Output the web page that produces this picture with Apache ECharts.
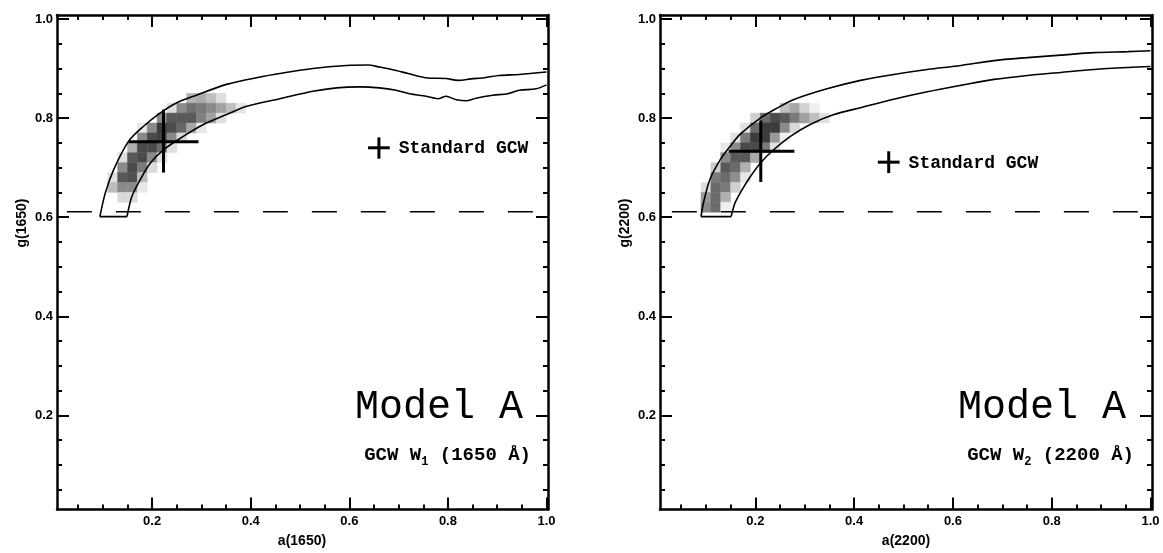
<!DOCTYPE html>
<html>
<head>
<meta charset="utf-8">
<title>Model A: g versus a</title>
<script src="https://cdn.jsdelivr.net/npm/echarts@6/dist/echarts.min.js"></script>
<style>
  html, body { margin: 0; background: #fff; }
  #chart { width: 1163px; height: 553px; }
</style>
</head>
<body>
<div id="chart"></div>
<script>
// axis ticks
const majorTicks = [0.2, 0.4, 0.6, 0.8, 1.0];
const minorTicks = [0.05, 0.1, 0.15, 0.25, 0.3, 0.35, 0.45, 0.5, 0.55, 0.65, 0.7, 0.75, 0.85, 0.9, 0.95];

// allowed region, 1650 A panel: upper and lower boundary [a, g]
const outerL = [[0.094,0.601],[0.105,0.649],[0.122,0.696],[0.152,0.753],[0.182,0.783],[0.216,0.810],[0.250,0.831],[0.284,0.844],[0.351,0.868],[0.419,0.883],[0.459,0.890],[0.526,0.900],[0.594,0.906],[0.638,0.907],[0.661,0.903],[0.695,0.896],[0.719,0.890],[0.759,0.881],[0.796,0.880],[0.820,0.876],[0.847,0.879],[0.877,0.882],[0.904,0.886],[0.945,0.888],[1.0,0.893]];
const innerL = [[0.149,0.601],[0.159,0.642],[0.176,0.676],[0.196,0.709],[0.223,0.736],[0.263,0.763],[0.304,0.787],[0.351,0.807],[0.392,0.824],[0.459,0.839],[0.526,0.854],[0.574,0.861],[0.621,0.863],[0.661,0.861],[0.695,0.856],[0.722,0.849],[0.756,0.844],[0.780,0.839],[0.796,0.844],[0.817,0.837],[0.839,0.835],[0.857,0.840],[0.891,0.846],[0.921,0.849],[0.945,0.856],[0.979,0.859],[1.0,0.867]];

// allowed region, 2200 A panel
const outerR = [[0.090,0.601],[0.095,0.629],[0.108,0.676],[0.129,0.716],[0.149,0.743],[0.169,0.767],[0.210,0.800],[0.244,0.820],[0.277,0.837],[0.345,0.859],[0.413,0.876],[0.480,0.888],[0.548,0.898],[0.616,0.906],[0.683,0.916],[0.751,0.922],[0.818,0.927],[0.886,0.932],[0.954,0.934],[1.0,0.936]];
const innerR = [[0.151,0.601],[0.159,0.629],[0.173,0.655],[0.190,0.682],[0.210,0.709],[0.237,0.736],[0.271,0.763],[0.311,0.787],[0.359,0.807],[0.413,0.821],[0.480,0.838],[0.548,0.853],[0.616,0.866],[0.683,0.878],[0.751,0.886],[0.818,0.892],[0.886,0.898],[0.954,0.902],[1.0,0.904]];

// likelihood cells [a, g, darkness 0..1], 0.02 wide
const heatL = [
  [0.28,0.84,0.30],[0.30,0.84,0.33],[0.32,0.84,0.25],[0.34,0.84,0.13],
  [0.24,0.82,0.13],[0.26,0.82,0.46],[0.28,0.82,0.56],[0.30,0.82,0.52],[0.32,0.82,0.46],[0.34,0.82,0.37],[0.36,0.82,0.25],[0.38,0.82,0.10],
  [0.22,0.80,0.46],[0.24,0.80,0.65],[0.26,0.80,0.65],[0.28,0.80,0.65],[0.30,0.80,0.50],[0.32,0.80,0.37],[0.34,0.80,0.12],
  [0.18,0.78,0.09],[0.20,0.78,0.46],[0.22,0.78,0.77],[0.24,0.78,0.70],[0.26,0.78,0.60],[0.28,0.78,0.34],[0.30,0.78,0.09],
  [0.18,0.76,0.46],[0.20,0.76,0.71],[0.22,0.76,0.75],[0.24,0.76,0.46],[0.26,0.76,0.15],
  [0.16,0.74,0.31],[0.18,0.74,0.71],[0.20,0.74,0.71],[0.22,0.74,0.58],[0.24,0.74,0.12],
  [0.14,0.72,0.13],[0.16,0.72,0.65],[0.18,0.72,0.71],[0.20,0.72,0.46],[0.22,0.72,0.12],
  [0.14,0.70,0.46],[0.16,0.70,0.71],[0.18,0.70,0.52],[0.20,0.70,0.14],
  [0.12,0.68,0.12],[0.14,0.68,0.65],[0.16,0.68,0.69],[0.18,0.68,0.26],
  [0.12,0.66,0.26],[0.14,0.66,0.46],[0.16,0.66,0.46],[0.18,0.66,0.09],
  [0.14,0.64,0.15],[0.16,0.64,0.14]
];
const heatR = [
  [0.26,0.82,0.25],[0.28,0.82,0.34],[0.30,0.82,0.18],[0.32,0.82,0.06],
  [0.20,0.80,0.18],[0.22,0.80,0.58],[0.24,0.80,0.71],[0.26,0.80,0.65],[0.28,0.80,0.52],[0.30,0.80,0.37],[0.32,0.80,0.25],[0.34,0.80,0.12],
  [0.18,0.78,0.12],[0.20,0.78,0.58],[0.22,0.78,0.77],[0.24,0.78,0.77],[0.26,0.78,0.46],[0.28,0.78,0.15],
  [0.16,0.76,0.12],[0.18,0.76,0.52],[0.20,0.76,0.77],[0.22,0.76,0.76],[0.24,0.76,0.40],[0.26,0.76,0.06],
  [0.14,0.74,0.09],[0.16,0.74,0.46],[0.18,0.74,0.71],[0.20,0.74,0.71],[0.22,0.74,0.52],[0.24,0.74,0.12],
  [0.14,0.72,0.46],[0.16,0.72,0.65],[0.18,0.72,0.65],[0.20,0.72,0.33],
  [0.12,0.70,0.20],[0.14,0.70,0.65],[0.16,0.70,0.58],[0.18,0.70,0.31],
  [0.12,0.68,0.52],[0.14,0.68,0.58],[0.16,0.68,0.44],[0.18,0.68,0.09],
  [0.10,0.66,0.13],[0.12,0.66,0.58],[0.14,0.66,0.52],[0.16,0.66,0.18],
  [0.10,0.64,0.40],[0.12,0.64,0.58],[0.14,0.64,0.31],
  [0.10,0.62,0.46],[0.12,0.62,0.58],[0.14,0.62,0.06]
];

// best fit with errors [a, g, aLo, aHi, gLo, gHi]
const bestL = [[0.223, 0.752, 0.152, 0.294, 0.690, 0.817]];
const bestR = [[0.211, 0.733, 0.146, 0.279, 0.671, 0.795]];
// standard GCW point (drawn as small cross)
const stdL = [[0.660, 0.740, 0.638, 0.682, 0.718, 0.761]];
const stdR = [[0.470, 0.711, 0.448, 0.492, 0.689, 0.733]];

// g threshold (dashed)
const gLimit = 0.611;
const dashL = [[0.027, gLimit], [1.0, gLimit]];
const dashR = [[0.031, gLimit], [1.0, gLimit]];

const X_MIN = 0.007, X_MAX = 1.003, Y_MIN = 0.01, Y_MAX = 1.008;
const CELL = 0.02;

const labelFont = { color: '#000', fontFamily: 'Liberation Sans', fontWeight: 'bold', fontSize: 13 };
const monoFont = '"Liberation Mono", "DejaVu Sans Mono", monospace';

function frameAxes(dim, gridIndex) {
  const sides = dim === 'x' ? ['bottom', 'top'] : ['left', 'right'];
  const range = dim === 'x' ? { min: X_MIN, max: X_MAX } : { min: Y_MIN, max: Y_MAX };
  const out = [];
  sides.forEach((pos, i) => {
    out.push({
      ...range, type: 'value', gridIndex, position: pos,
      axisLine: { show: true, onZero: false, lineStyle: { color: '#000', width: 2.5 } },
      axisTick: { show: true, inside: true, length: 12, customValues: majorTicks, lineStyle: { color: '#000', width: 2 } },
      axisLabel: i === 0
        ? { show: true, customValues: majorTicks, margin: dim === 'x' ? 5 : 4, formatter: (v) => v.toFixed(1), ...labelFont }
        : { show: false },
      splitLine: { show: false },
    });
    out.push({
      ...range, type: 'value', gridIndex, position: pos,
      axisLine: { show: false, onZero: false },
      axisTick: { show: true, inside: true, length: 5, customValues: minorTicks, lineStyle: { color: '#000', width: 2 } },
      axisLabel: { show: false },
      splitLine: { show: false },
    });
  });
  return out;
}

function cellItem(params, api) {
  const x = api.value(0), y = api.value(1), d = api.value(2);
  const p0 = api.coord([x - CELL / 2, y + CELL / 2]);
  const p1 = api.coord([x + CELL / 2, y - CELL / 2]);
  const g = Math.round(255 * (1 - d));
  const c = `rgb(${g},${g},${g})`;
  return {
    type: 'rect',
    shape: { x: p0[0], y: p0[1], width: p1[0] - p0[0], height: p1[1] - p0[1] },
    style: { fill: c, stroke: c, lineWidth: 0.5 },
  };
}

function seg(a, b) {
  return { type: 'line', shape: { x1: a[0], y1: a[1], x2: b[0], y2: b[1] }, style: { stroke: '#000', lineWidth: 3 } };
}

function crossItem(label) {
  return function (params, api) {
    const c = api.coord([api.value(0), api.value(1)]);
    const l = api.coord([api.value(2), api.value(1)]);
    const r = api.coord([api.value(3), api.value(1)]);
    const b = api.coord([api.value(0), api.value(4)]);
    const t = api.coord([api.value(0), api.value(5)]);
    const children = [seg(l, r), seg(t, b)];
    if (label) {
      children.push({
        type: 'text', x: r[0] + 9, y: c[1] + 1,
        style: { text: label, fill: '#000', font: `bold 18px ${monoFont}`, align: 'left', verticalAlign: 'middle' },
      });
    }
    return { type: 'group', children };
  };
}

function curve(ax, data, smooth) {
  return {
    type: 'line', xAxisIndex: ax, yAxisIndex: ax, data, showSymbol: false, z: 2, silent: true,
    smooth: smooth,
    lineStyle: { color: '#000', width: 1.6 },
  };
}

function panelSeries(ax, heat, outer, inner, dash, best, std) {
  return [
    { type: 'custom', xAxisIndex: ax, yAxisIndex: ax, renderItem: cellItem, data: heat, z: 1, silent: true },
    curve(ax, outer, 0.3),
    curve(ax, inner, 0.3),
    curve(ax, [inner[0], outer[0]], false),
    { type: 'line', xAxisIndex: ax, yAxisIndex: ax, data: dash, showSymbol: false, z: 2, silent: true,
      lineStyle: { color: '#000', width: 1.5, type: [25, 24] } },
    { type: 'custom', xAxisIndex: ax, yAxisIndex: ax, renderItem: crossItem(null), data: best, z: 3, silent: true },
    { type: 'custom', xAxisIndex: ax, yAxisIndex: ax, renderItem: crossItem('Standard GCW'), data: std, z: 3, silent: true },
  ];
}

function gcwLabel(x, sub, wave) {
  return [
    { type: 'text', x: x, y: 407, style: { text: 'Model A', fill: '#000', font: `normal 40px ${monoFont}`, align: 'right', verticalAlign: 'middle' } },
    { type: 'text', x: x + 8, y: 455, style: {
      text: `{n|GCW W}{s|${sub}}{n| (${wave} Å)}`, align: 'right', verticalAlign: 'middle',
      rich: {
        n: { fontFamily: monoFont, fontWeight: 'bold', fontSize: 19, fill: '#000', lineHeight: 26 },
        s: { fontFamily: monoFont, fontWeight: 'bold', fontSize: 12, fill: '#000', lineHeight: 26, verticalAlign: 'bottom', padding: [6, 0, 0, 0] },
      },
    } },
  ];
}

function axisTitle(x, y, text, rotated) {
  return { type: 'text', x, y, rotation: rotated ? Math.PI / 2 : 0,
    style: { text, fill: '#000', font: 'bold 14px "Liberation Sans"', align: 'center', verticalAlign: 'middle' } };
}

const chart = echarts.init(document.getElementById('chart'), null, { renderer: 'canvas' });
chart.setOption({
  animation: false,
  backgroundColor: '#fff',
  grid: [
    { left: 57, top: 15, width: 491, height: 494.5, outerBoundsMode: 'none' },
    { left: 660, top: 15, width: 492, height: 494.5, outerBoundsMode: 'none' },
  ],
  xAxis: [...frameAxes('x', 0), ...frameAxes('x', 1)],
  yAxis: [...frameAxes('y', 0), ...frameAxes('y', 1)],
  series: [
    ...panelSeries(0, heatL, outerL, innerL, dashL, bestL, stdL),
    ...panelSeries(4, heatR, outerR, innerR, dashR, bestR, stdR),
  ],
  graphic: [
    axisTitle(302, 541, 'a(1650)', false),
    axisTitle(906, 541, 'a(2200)', false),
    axisTitle(22, 223, 'g(1650)', true),
    axisTitle(625, 223, 'g(2200)', true),
    ...gcwLabel(523, '1', 1650),
    ...gcwLabel(1126, '2', 2200),
  ],
});
</script>
</body>
</html>
